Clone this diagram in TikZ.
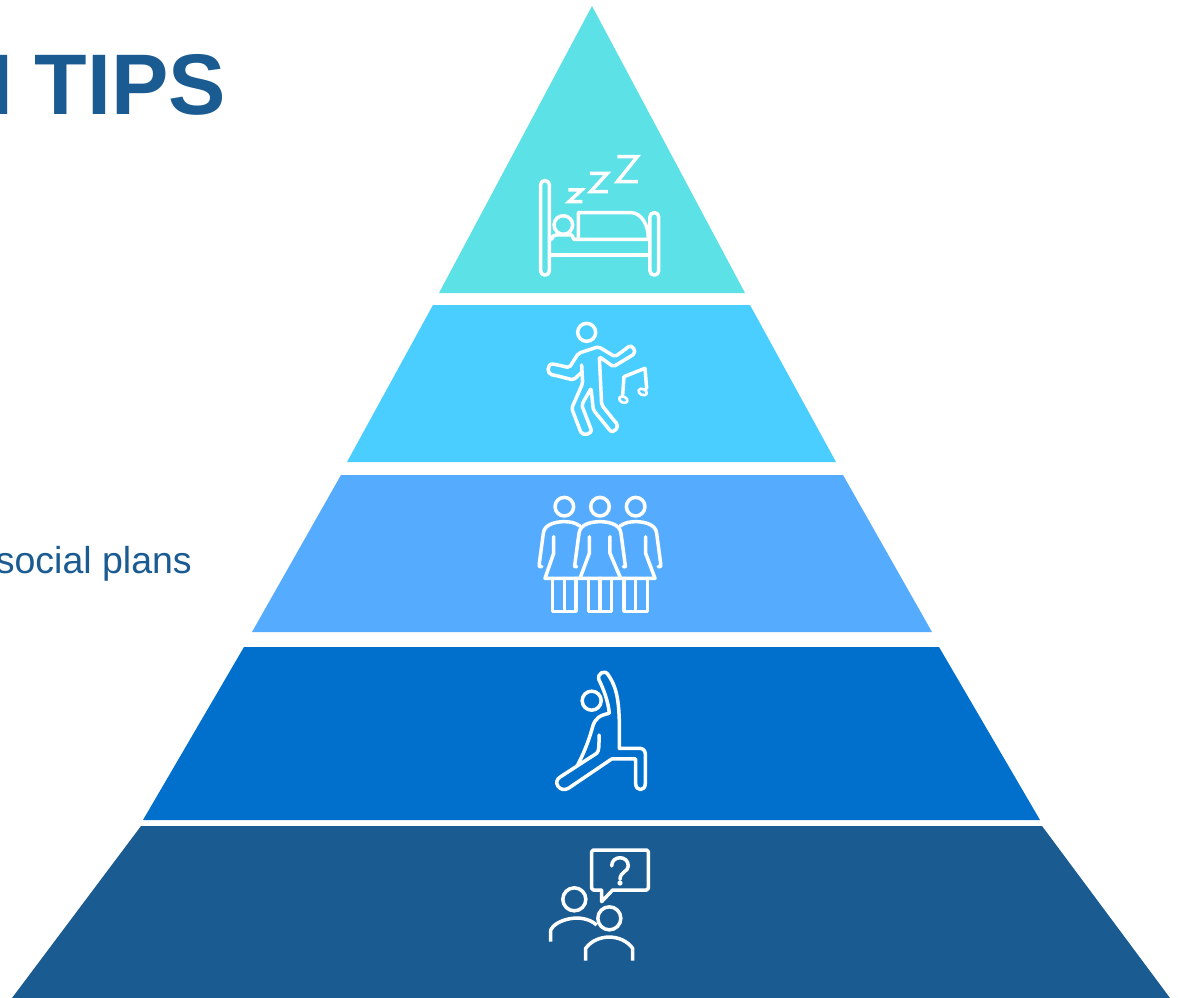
\documentclass[tikz,border=0pt]{standalone}
\usepackage{fontspec}
\setmainfont{Liberation Sans}
\definecolor{tealc}{HTML}{5CE1E6}
\definecolor{skyc}{HTML}{4ACEFF}
\definecolor{lightb}{HTML}{55ACFF}
\definecolor{midb}{HTML}{0070CC}
\definecolor{darkb}{HTML}{1A5B92}
\tikzset{
  icon/.style={x=0.3333pt,y=-0.3333pt,draw=white,line width=3.5pt,line cap=round,line join=round},
  tier/.style={draw=none}
}
\begin{document}
\begin{tikzpicture}[x=1pt,y=-1pt]
\useasboundingbox (0,0) rectangle (1178,998);
\clip (0,0) rectangle (1178,998);
\fill[white] (0,0) rectangle (1178,998);
% pyramid tiers
\fill[tealc,tier] (592,6) -- (745,293) -- (439,293) -- cycle;
\fill[skyc,tier] (433,305) -- (750,305) -- (836,462) -- (347,462) -- cycle;
\fill[lightb,tier] (341,475) -- (843,475) -- (932,632) -- (252,632) -- cycle;
\fill[midb,tier] (244,647) -- (939,647) -- (1040,820) -- (143,820) -- cycle;
\fill[darkb,tier] (141,826) -- (1042,826) -- (1170,998) -- (12,998) -- cycle;
% texts
\node[anchor=base east,inner sep=0pt,text=darkb,font=\bfseries\fontsize{86}{86}\selectfont] (title) at (226,114) {I\kern-3pt\ TIPS};
\node[anchor=base east,inner sep=0pt,text=darkb,font=\fontsize{37.5}{37.5}\selectfont] (plans) at (192,573) {social plans};
% bed
\begin{scope}[shift={(520pt,-140pt)},icon]
\draw[rounded corners=4pt] (62,122) rectangle (88,405);
\draw[rounded corners=4pt] (390,218) rectangle (416,405);
\draw (90,345) -- (388,345);
\draw (95,298) .. controls (97,290) and (100,285) .. (108,285) -- (155,285) -- (162,298) -- (388,298);
\draw (175,298) -- (175,218) -- (335,218) .. controls (365,220) and (385,255) .. (385,295);
\draw (130,255) circle[radius=9.3pt];
\draw[line cap=butt,line join=miter] (145,150) -- (185,150) -- (147,185) -- (187,185);
\draw[line cap=butt,line join=miter] (210,100) -- (262,100) -- (212,155) -- (264,155);
\draw[line cap=butt,line join=miter] (292,50) -- (352,50) -- (292,125) -- (354,125);
\end{scope}
% dancer
\begin{scope}[shift={(530pt,-315pt)},icon]
\draw (170,52) circle[radius=9pt];
\draw[rounded corners=2pt] (155,150) -- (158,205) -- (125,280) -- (150,345) .. controls (158,365) and (190,358) .. (180,335) -- (155,270) -- (183,220) -- (190,285) -- (235,340) .. controls (250,360) and (270,335) .. (255,320) -- (215,270) -- (208,125) -- (250,155) -- (305,122) .. controls (322,110) and (305,85) .. (290,100) -- (255,125) -- (205,95) -- (145,115) -- (118,158) -- (75,148) .. controls (50,145) and (50,178) .. (72,180) -- (130,195) -- (155,172);
\draw (278,240) -- (282,185) -- (345,160) -- (350,220);
\draw[line width=2.6pt] (280,254) ellipse[x radius=4.4pt,y radius=3pt,rotate=-25];
\draw[line width=2.6pt] (338,231) ellipse[x radius=4.4pt,y radius=3pt,rotate=-25];
\end{scope}
% three women
\begin{scope}[shift={(530pt,-490pt)},icon]
\foreach \cx in {103,210,317} \draw (\cx,50) circle[radius=9.3pt];
\draw (140,230) .. controls (130,232) and (135,225) .. (135,220) -- (147,130) .. controls (150,100) and (190,95) .. (210,95) .. controls (230,95) and (270,100) .. (273,130) -- (285,220) .. controls (285,228) and (290,232) .. (280,230);
\draw (178,140) -- (178,190) -- (150,265) -- (272,265) -- (240,190) -- (240,140);
\draw (175,265) -- (175,364) -- (245,364) -- (245,265);
\draw (210,265) -- (210,364);
\draw (35,230) .. controls (25,232) and (28,225) .. (28,220) -- (40,130) .. controls (43,100) and (83,95) .. (103,95) .. controls (118,95) and (135,97) .. (150,108);
\draw (71,140) -- (71,190) -- (45,265) -- (150,265);
\draw (68,265) -- (68,364) -- (138,364) -- (138,265);
\draw (103,265) -- (103,364);
\draw (385,230) .. controls (395,232) and (392,225) .. (392,220) -- (380,130) .. controls (377,100) and (337,95) .. (317,95) .. controls (302,95) and (285,97) .. (270,108);
\draw (347,140) -- (347,190) -- (375,265) -- (272,265);
\draw (282,265) -- (282,364) -- (352,364) -- (352,265);
\draw (317,265) -- (317,364);
\end{scope}
% yoga figure
\begin{scope}[shift={(540pt,-665pt)},icon]
\draw (155,107) circle[radius=9.5pt];
\draw (110,305) .. controls (135,260) and (150,215) .. (158,185) .. controls (165,160) and (180,150) .. (208,145) .. controls (205,110) and (190,70) .. (177,45) .. controls (170,25) and (195,12) .. (205,30) .. controls (235,75) and (240,120) .. (238,250) -- (300,250) .. controls (310,250) and (316,258) .. (316,268) -- (316,355) .. controls (316,380) and (287,380) .. (287,355) -- (287,282) -- (215,282) -- (85,370) .. controls (60,385) and (35,350) .. (62,335) -- (170,265) .. controls (178,258) and (177,240) .. (177,210);
\end{scope}
% conversation
\begin{scope}[shift={(540pt,-840pt)},icon]
\draw (185,150) -- (160,150) .. controls (157,150) and (155,148) .. (155,145) -- (155,35) .. controls (155,32) and (157,30) .. (160,30) -- (320,30) .. controls (323,30) and (325,32) .. (325,35) -- (325,145) .. controls (325,148) and (323,150) .. (320,150) -- (218,150) -- (185,185) -- cycle;
\draw (215,78) .. controls (215,45) and (265,45) .. (265,78) .. controls (265,95) and (240,95) .. (240,118);
\fill[white,draw=none] (240,129) circle[radius=2.6pt];
\draw (103,178) circle[radius=11.5pt];
\draw (208,235) circle[radius=11.5pt];
\draw[line cap=butt] (32,305) -- (32,270) .. controls (45,240) and (125,215) .. (170,255);
\draw[line cap=butt] (137,362) -- (137,325) .. controls (170,280) and (245,280) .. (278,325) -- (278,362);
\end{scope}
\end{tikzpicture}
\end{document}
